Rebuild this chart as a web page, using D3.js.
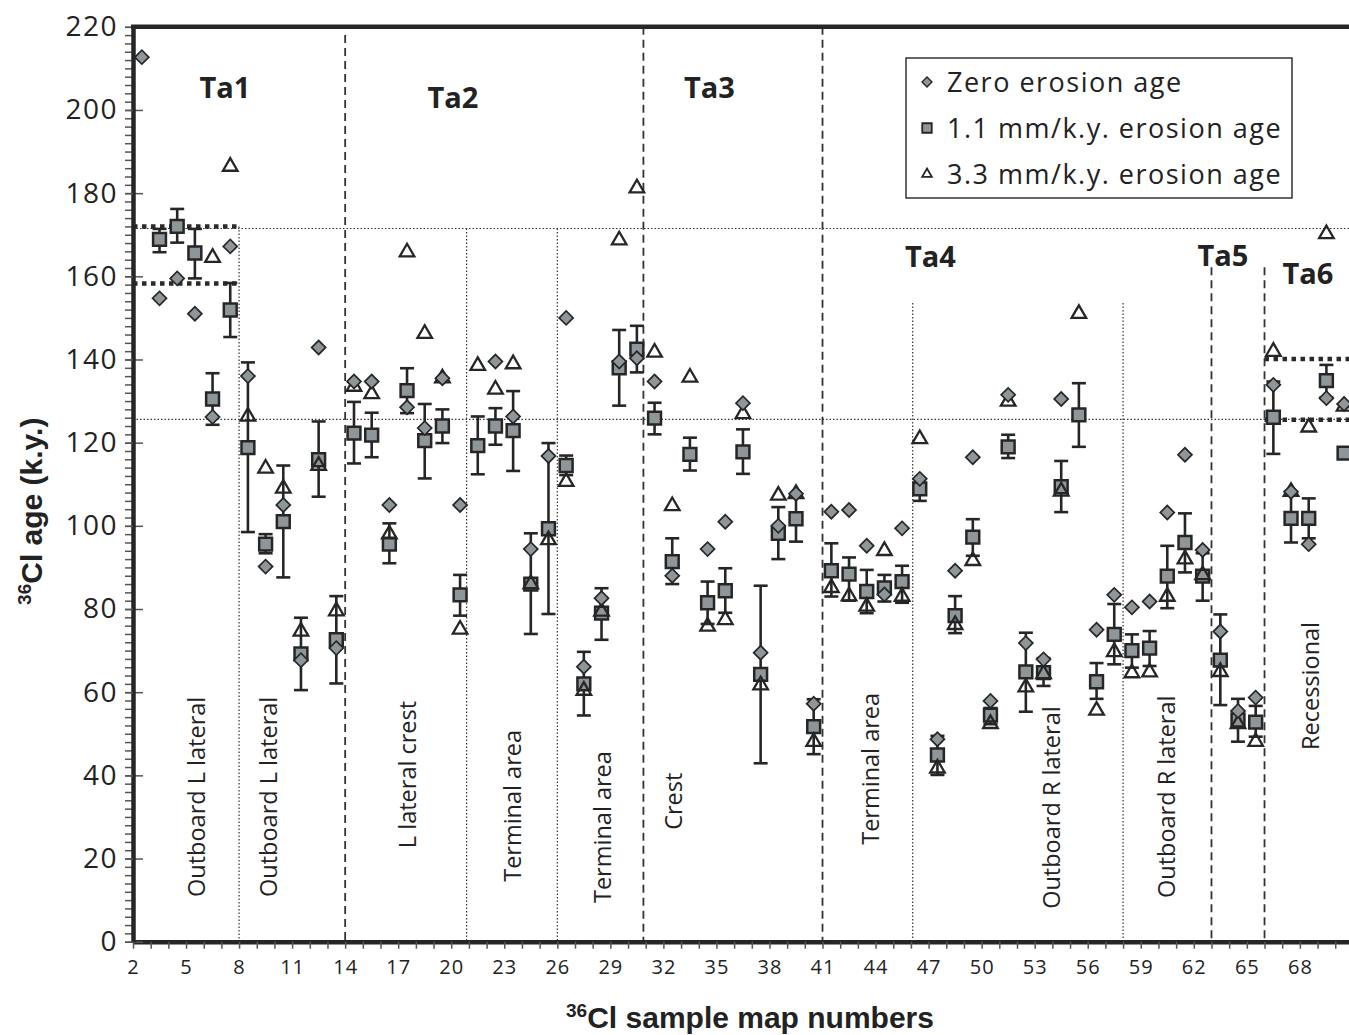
<!DOCTYPE html>
<html>
<head>
<meta charset="utf-8">
<script src="https://cdn.jsdelivr.net/npm/d3@7"></script>
<style>
  body { margin: 0; background: #fff; }
  svg { display: block; font-family: "Open Sans", "Noto Sans", sans-serif; }
</style>
</head>
<body>
<svg id="chart" width="1349" height="1035"></svg>
<script>
// sample map numbers (categories)
const sampleNo = [2, 3, 4, 5, 6, 7, 8, 9, 10, 11, 12, 13, 14, 15, 16, 17, 18, 19, 20, 21, 22, 23,
  24, 25, 26, 27, 28, 29, 30, 31, 32, 33, 34, 35, 36, 37, 38, 39, 40, 41, 42, 43, 44, 45, 46, 47,
  48, 49, 50, 51, 52, 53, 54, 55, 56, 57, 58, 59, 60, 61, 62, 63, 64, 65, 66, 67, 68, 69, 70];

// zero erosion age (k.y.)
const zeroErosionAge = [212.7, 154.7, 159.5, 151.0, 126.2, 167.2, 136.0, 90.2, 105.0, 67.7, 142.9, 70.6,
  134.7, 134.7, 105.0, 128.5, 123.5, 135.5, 105.0, null, 139.5, 126.3, 94.4, 116.8, 150.0, 66.1, 82.6,
  139.5, 140.3, 134.7, 88.0, null, 94.4, 101.0, 129.5, 69.5, 100.0, 107.7, 57.2, 103.4, 103.8, 95.2,
  83.5, 99.4, 111.3, 48.7, 89.2, 116.5, 57.9, 131.5, 71.8, 67.9, 130.5, null, 75.0, 83.4, 80.4, 81.8,
  103.2, 117.1, 94.2, 74.6, 55.5, 58.7, 133.9, 108.2, 95.6, 130.7, 129.3];

// 1.1 mm/k.y. erosion age with its error bar limits
const erosion11Age = [null, 168.9, 172.0, 165.6, 130.5, 151.9, 118.8, 95.6, 101.0, 69.2, 115.9, 72.6,
  122.3, 121.8, 95.6, 132.5, 120.5, 124.0, 83.4, 119.3, 124.0, 122.9, 86.0, 99.3, 114.5, 62.0, 79.0,
  138.0, 142.5, 125.9, 91.4, 117.2, 81.5, 84.4, 117.8, 64.3, 98.2, 101.7, 51.7, 89.2, 88.4, 84.2,
  85.1, 86.6, 108.9, 44.9, 78.4, 97.3, 54.5, 119.0, 64.9, 64.7, 109.4, 126.7, 62.5, 73.9, 70.0, 70.6,
  87.9, 96.0, 87.9, 67.7, 53.3, 52.8, 126.1, 101.8, 101.8, 134.9, 117.5];
const erosion11Low = [null, 165.8, 168.1, 159.5, 124.3, 145.4, 98.5, 93.4, 87.6, 60.5, 107.0, 62.1,
  115.0, 116.5, 91.0, 127.1, 111.4, 119.9, 78.4, 112.4, 119.5, 113.2, 74.0, 78.8, 112.2, 54.4, 72.6,
  128.9, 136.9, 122.0, 86.0, 113.3, 76.4, 79.1, 112.5, 42.9, 92.0, 96.2, 45.1, 83.0, 82.0, 79.0,
  81.8, 81.5, 106.0, 40.1, 74.2, 92.8, 52.3, 116.3, 55.3, 61.5, 103.3, 119.0, 58.4, 66.7, 65.9, 66.3,
  80.2, 88.8, 82.0, 56.9, 48.1, 49.3, 117.3, 96.0, 97.0, 130.9, null];
const erosion11High = [null, 171.4, 176.2, 171.4, 136.7, 158.4, 139.3, 98.0, 114.5, 77.9, 125.1, 83.1,
  129.8, 127.2, 100.6, 137.9, 129.3, 128.0, 88.2, 126.3, 128.3, 132.4, 98.2, 119.9, 116.9, 69.7, 85.0,
  147.1, 148.1, 129.6, 97.0, 121.2, 86.6, 89.8, 123.2, 85.6, 104.5, 107.4, 58.3, 95.8, 92.4, 89.4,
  88.2, 90.4, 111.3, 49.5, 83.1, 101.6, 56.2, 121.9, 74.3, 68.2, 115.6, 134.3, 67.0, 81.2, 73.9, 74.7,
  95.2, 103.0, 93.4, 78.7, 58.4, 56.7, 134.7, 108.2, 106.6, 138.7, null];

// 3.3 mm/k.y. erosion age
const erosion33Age = [null, null, null, null, 164.5, 186.4, 126.3, 113.8, 109.0, 74.6, 114.5, 79.5,
  133.5, 131.7, 98.0, 165.8, 146.2, 135.5, 75.1, 138.5, 132.8, 138.9, 86.0, 96.6, 110.6, 60.4, 79.4,
  168.7, 181.2, 141.7, 104.8, 135.7, 75.8, 77.4, 126.9, 61.7, 107.3, 107.7, 48.1, 85.1, 83.1, 80.6,
  94.0, 83.0, 120.9, 41.7, 76.2, 91.6, 52.4, 129.9, 61.2, 64.4, 108.3, 151.0, 55.6, 69.7, 64.6, 64.8,
  83.0, 92.0, 88.2, 64.9, 52.4, 48.1, 141.9, 108.2, 123.7, 170.2, 128.7];

// tick labels
const xTickLabels = [2, 5, 8, 11, 14, 17, 20, 23, 26, 29, 32, 35, 38, 41, 44, 47, 50, 53, 56, 59, 62, 65, 68];
const yTickLabels = [0, 20, 40, 60, 80, 100, 120, 140, 160, 180, 200, 220];

// moraine boundaries (sample-number axis) and the age where each line begins
const moraineBreaks = [{at: 14, top: 218}, {at: 30.87, top: 220}, {at: 41, top: 220},
  {at: 63, top: 162.2}, {at: 66, top: 162.2}];
const sectorBreaks = [{at: 8, top: 172}, {at: 20.87, top: 171.5}, {at: 26, top: 171.5},
  {at: 46.1, top: 153.6}, {at: 58, top: 153.6}];
const referenceAges = [171.5, 125.6];
const meanBands = [{from: 2, to: 8, ages: [172, 158.3]}, {from: 66, to: 72, ages: [140.1, 125.5]}];

const moraineNames = ["Ta1", "Ta2", "Ta3", "Ta4", "Ta5", "Ta6"];
const moraineLabelAt = [[7.2, 205.3], [20.1, 203.1], [34.6, 205.3], [47.1, 164.7], [63.65, 164.9], [68.45, 160.6]];

const sectorNames = ["Outboard L lateral", "Outboard L lateral", "L lateral crest", "Terminal area",
  "Terminal area", "Crest", "Terminal area", "Outboard R lateral", "Outboard R lateral", "Recessional"];
const sectorLabelAt = [[5.62, 10.75], [9.64, 10.75], [17.55, 22.5], [23.44, 14.4], [28.58, 9.3],
  [32.6, 26.9], [43.74, 23.3], [53.98, 7.9], [60.43, 10.5], [68.63, 46.1]];

const legendNames = ["Zero erosion age", "1.1 mm/k.y. erosion age", "3.3 mm/k.y. erosion age"];

const rows = sampleNo.map((n, i) => ({
  n,
  zero: zeroErosionAge[i],
  mid: erosion11Age[i],
  lo: erosion11Low[i],
  hi: erosion11High[i],
  high: erosion33Age[i]
}));

const svg = d3.select("#chart");
const ink = "#262626";
const markFill = "#8e969a";

const x = d3.scaleLinear().domain([2, 72]).range([133, 1370.6]);
const y = d3.scaleLinear().domain([0, 220]).range([941.7, 26.8]);
const cx = n => x(n + 0.5);

// guide lines
const guides = svg.append("g");
guides.selectAll("line.ref")
  .data(referenceAges)
  .join("line")
  .attr("x1", x(2)).attr("x2", x(72))
  .attr("y1", d => y(d)).attr("y2", d => y(d))
  .attr("stroke", "#333").attr("stroke-width", 1.2).attr("stroke-dasharray", "1.5,2");

guides.selectAll("line.sector")
  .data(sectorBreaks)
  .join("line")
  .attr("x1", d => x(d.at)).attr("x2", d => x(d.at))
  .attr("y1", d => y(d.top)).attr("y2", y(0))
  .attr("stroke", "#333").attr("stroke-width", 1.2).attr("stroke-dasharray", "1.5,2");

guides.selectAll("line.moraine")
  .data(moraineBreaks)
  .join("line")
  .attr("x1", d => x(d.at)).attr("x2", d => x(d.at))
  .attr("y1", d => y(d.top)).attr("y2", y(0))
  .attr("stroke", "#333").attr("stroke-width", 1.8).attr("stroke-dasharray", "8,5");

meanBands.forEach(b => {
  guides.append("g").selectAll("line")
    .data(b.ages)
    .join("line")
    .attr("x1", x(b.from)).attr("x2", x(b.to))
    .attr("y1", d => y(d)).attr("y2", d => y(d))
    .attr("stroke", "#2a2a2a").attr("stroke-width", 4.5).attr("stroke-dasharray", "4.5,4.5");
});

// text annotations
svg.append("g").selectAll("text")
  .data(moraineNames)
  .join("text")
  .attr("x", (d, i) => x(moraineLabelAt[i][0]))
  .attr("y", (d, i) => y(moraineLabelAt[i][1]))
  .attr("dy", "0.36em")
  .attr("text-anchor", "middle")
  .attr("font-size", 29).attr("font-weight", 700).attr("fill", "#222")
  .text(d => d);

svg.append("g").selectAll("text")
  .data(sectorNames)
  .join("text")
  .attr("transform", (d, i) => `translate(${x(sectorLabelAt[i][0])},${y(sectorLabelAt[i][1])}) rotate(-90)`)
  .attr("dy", "0.36em")
  .attr("font-size", 23.5).attr("fill", "#222")
  .text(d => d);

// axes
const xAxis = svg.append("g")
  .attr("transform", `translate(0,${y(0)})`)
  .call(d3.axisBottom(x)
    .tickValues(d3.range(2, 72))
    .tickSize(7).tickSizeOuter(0).tickPadding(11)
    .tickFormat(d => xTickLabels.includes(d) ? d : ""));
xAxis.selectAll("text").attr("font-size", 20).attr("letter-spacing", 1).attr("fill", "#222")
  .attr("font-family", "\"Open Sans\", sans-serif");
xAxis.selectAll(".tick line").attr("stroke", "#555").attr("stroke-width", 1.5);
xAxis.select(".domain").attr("stroke", ink).attr("stroke-width", 4.5);

const yMinor = svg.append("g")
  .attr("transform", `translate(${x(2)},0)`)
  .call(d3.axisLeft(y).tickValues(d3.range(0, 221, 2)).tickSize(8).tickSizeOuter(0).tickFormat(""));
yMinor.selectAll(".tick line").attr("stroke", "#555").attr("stroke-width", 1.5);
yMinor.select(".domain").remove();

const yInner = svg.append("g")
  .attr("transform", `translate(${x(2)},0)`)
  .call(d3.axisLeft(y).tickValues(yTickLabels).tickSize(-10).tickSizeOuter(0).tickFormat(""));
yInner.selectAll(".tick line").attr("stroke", "#555").attr("stroke-width", 1.5);
yInner.select(".domain").remove();

const yAxis = svg.append("g")
  .attr("transform", `translate(${x(2)},0)`)
  .call(d3.axisLeft(y).tickValues(yTickLabels).tickSize(8).tickSizeOuter(0).tickPadding(7));
yAxis.selectAll("text").attr("font-size", 28).attr("letter-spacing", 1.5).attr("fill", "#222")
  .attr("font-family", "\"Open Sans\", sans-serif");
yAxis.selectAll(".tick line").attr("stroke", "#555").attr("stroke-width", 1.5);
yAxis.select(".domain").attr("stroke", ink).attr("stroke-width", 4.5);

svg.append("line")
  .attr("x1", x(2) - 2).attr("x2", x(72))
  .attr("y1", y(220)).attr("y2", y(220))
  .attr("stroke", ink).attr("stroke-width", 4.5);

// axis titles
const yTitle = svg.append("text")
  .attr("transform", `translate(42,${y(110) + 27}) rotate(-90)`)
  .attr("text-anchor", "middle")
  .attr("font-family", "\"Liberation Sans\", Arial, sans-serif")
  .attr("font-weight", 700).attr("font-size", 30).attr("fill", "#222");
yTitle.append("tspan").attr("font-size", 19).attr("dy", -11).text("36");
yTitle.append("tspan").attr("dy", 11).text("Cl age (k.y.)");

const xTitle = svg.append("text")
  .attr("x", 750).attr("y", 1028)
  .attr("text-anchor", "middle")
  .attr("font-family", "\"Liberation Sans\", Arial, sans-serif")
  .attr("font-weight", 700).attr("font-size", 30).attr("fill", "#222");
xTitle.append("tspan").attr("font-size", 19).attr("dy", -11).text("36");
xTitle.append("tspan").attr("dy", 11).text("Cl sample map numbers");

// error bars (1.1 mm/k.y.)
const withErr = rows.filter(d => d.lo != null && d.hi != null);
const eb = svg.append("g").attr("stroke", ink).attr("stroke-width", 2.6);
eb.selectAll("line.v").data(withErr).join("line")
  .attr("x1", d => cx(d.n)).attr("x2", d => cx(d.n))
  .attr("y1", d => y(d.lo)).attr("y2", d => y(d.hi));
eb.selectAll("line.lo").data(withErr).join("line")
  .attr("x1", d => cx(d.n) - 7).attr("x2", d => cx(d.n) + 7)
  .attr("y1", d => y(d.lo)).attr("y2", d => y(d.lo));
eb.selectAll("line.hi").data(withErr).join("line")
  .attr("x1", d => cx(d.n) - 7).attr("x2", d => cx(d.n) + 7)
  .attr("y1", d => y(d.hi)).attr("y2", d => y(d.hi));

const squarePath = d3.symbol().type(d3.symbolSquare).size(165)();
const diamondPath = d3.symbol().type(d3.symbolSquare).size(98)();
const trianglePath = d3.symbol().type(d3.symbolTriangle).size(92)();

svg.append("g").selectAll("path")
  .data(rows.filter(d => d.mid != null))
  .join("path")
  .attr("d", squarePath)
  .attr("transform", d => `translate(${cx(d.n)},${y(d.mid)})`)
  .attr("fill", markFill).attr("stroke", ink).attr("stroke-width", 2.5);

svg.append("g").selectAll("path")
  .data(rows.filter(d => d.high != null))
  .join("path")
  .attr("d", trianglePath)
  .attr("transform", d => `translate(${cx(d.n)},${y(d.high)})`)
  .attr("fill", "none").attr("stroke", ink).attr("stroke-width", 2.3);

svg.append("g").selectAll("path")
  .data(rows.filter(d => d.zero != null))
  .join("path")
  .attr("d", diamondPath)
  .attr("transform", d => `translate(${cx(d.n)},${y(d.zero)}) rotate(45)`)
  .attr("fill", markFill).attr("stroke", ink).attr("stroke-width", 1.7);

// legend
const legend = svg.append("g").attr("transform", "translate(906,58)");
legend.append("rect")
  .attr("width", 386).attr("height", 140)
  .attr("fill", "#fff").attr("stroke", "#333").attr("stroke-width", 1.5);
const legendMarks = [
  {d: d3.symbol().type(d3.symbolSquare).size(50)(), rot: 45, fill: markFill, sw: 1.4},
  {d: d3.symbol().type(d3.symbolSquare).size(90)(), rot: 0, fill: markFill, sw: 1.8},
  {d: d3.symbol().type(d3.symbolTriangle).size(40)(), rot: 0, fill: "#fff", sw: 1.8}
];
const item = legend.selectAll("g.item")
  .data(legendNames)
  .join("g")
  .attr("transform", (d, i) => `translate(21,${24 + i * 46})`);
item.append("path")
  .attr("d", (d, i) => legendMarks[i].d)
  .attr("transform", (d, i) => `rotate(${legendMarks[i].rot})`)
  .attr("fill", (d, i) => legendMarks[i].fill)
  .attr("stroke", ink)
  .attr("stroke-width", (d, i) => legendMarks[i].sw);
item.append("text")
  .attr("x", 20).attr("dy", "0.36em")
  .attr("font-size", 27).attr("letter-spacing", 1.5).attr("fill", "#222")
  .text(d => d);
</script>
</body>
</html>
